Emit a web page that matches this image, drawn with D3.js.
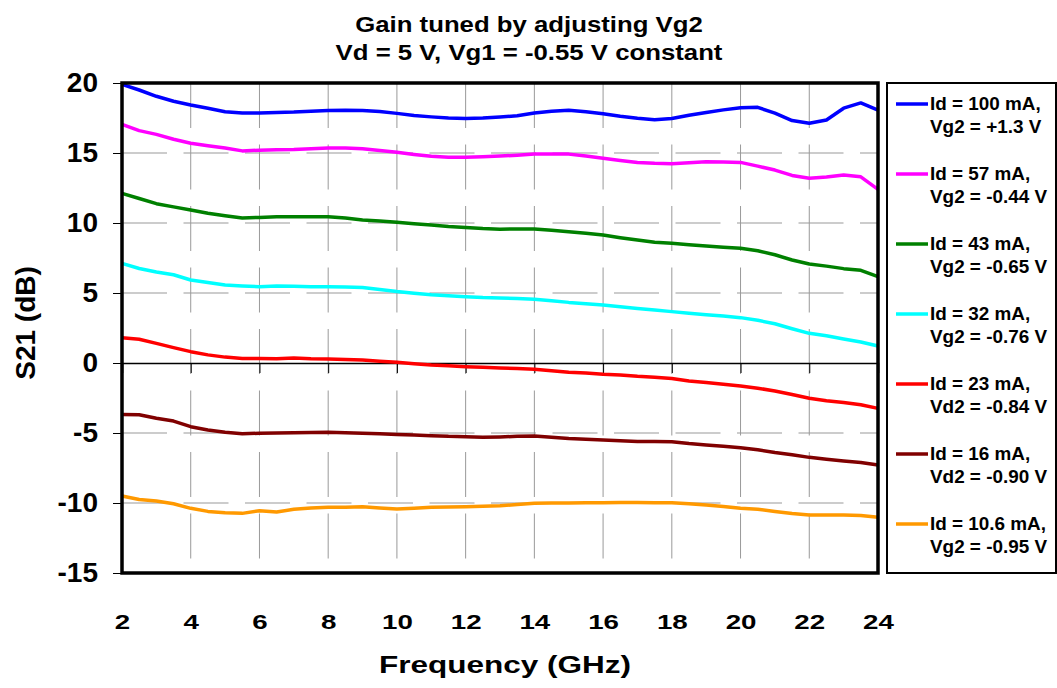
<!DOCTYPE html>
<html>
<head>
<meta charset="utf-8">
<script src="https://cdn.jsdelivr.net/npm/d3@7"></script>
<style>
  body { margin: 0; background: #fff; }
  svg text { font-family: "Liberation Sans", Arial, sans-serif; font-weight: bold; fill: #000; }
</style>
</head>
<body>
<svg id="chart" width="1057" height="688"></svg>
<script>
// frequency points (GHz)
var freq = [2, 2.5, 3, 3.5, 4, 4.5, 5, 5.5, 6, 6.5, 7, 7.5, 8, 8.5, 9, 9.5, 10, 10.5, 11, 11.5,
  12, 12.5, 13, 13.5, 14, 14.5, 15, 15.5, 16, 16.5, 17, 17.5, 18, 18.5, 19, 19.5, 20, 20.5,
  21, 21.5, 22, 22.5, 23, 23.5, 24];

// S21 (dB) for each bias point
var id100 = [19.9, 19.5, 19.05, 18.7, 18.43, 18.2, 17.95, 17.85, 17.86, 17.9, 17.92, 17.98, 18.03, 18.05, 18.04, 17.97,
  17.83, 17.68, 17.58, 17.5, 17.47, 17.5, 17.57, 17.66, 17.86, 17.98, 18.05, 17.95, 17.8, 17.62, 17.48, 17.38,
  17.46, 17.7, 17.9, 18.08, 18.24, 18.26, 17.85, 17.32, 17.12, 17.36, 18.2, 18.58, 18.07];
var id57 = [17.05, 16.6, 16.33, 15.98, 15.7, 15.52, 15.36, 15.15, 15.2, 15.23, 15.25, 15.3, 15.35, 15.36, 15.3, 15.18,
  15.05, 14.9, 14.76, 14.7, 14.69, 14.74, 14.78, 14.84, 14.92, 14.93, 14.92, 14.78, 14.63, 14.47, 14.32, 14.26,
  14.24, 14.3, 14.38, 14.35, 14.33, 14.06, 13.78, 13.4, 13.2, 13.28, 13.43, 13.3, 12.4];
var id43 = [12.12, 11.75, 11.38, 11.15, 10.93, 10.7, 10.52, 10.36, 10.4, 10.44, 10.45, 10.45, 10.45, 10.36, 10.22, 10.14,
  10.05, 9.95, 9.86, 9.75, 9.67, 9.6, 9.56, 9.57, 9.57, 9.48, 9.37, 9.26, 9.14, 8.95, 8.78, 8.62,
  8.55, 8.45, 8.35, 8.26, 8.19, 8.02, 7.73, 7.36, 7.07, 6.92, 6.74, 6.62, 6.17];
var id32 = [7.12, 6.75, 6.5, 6.3, 5.93, 5.75, 5.57, 5.5, 5.45, 5.5, 5.48, 5.45, 5.45, 5.43, 5.4, 5.25,
  5.1, 4.98, 4.87, 4.8, 4.74, 4.68, 4.65, 4.6, 4.55, 4.45, 4.33, 4.24, 4.14, 4.02, 3.9, 3.78,
  3.67, 3.55, 3.44, 3.35, 3.24, 3.05, 2.8, 2.45, 2.12, 1.95, 1.72, 1.5, 1.21];
var id23 = [1.8, 1.7, 1.4, 1.1, 0.81, 0.58, 0.42, 0.33, 0.33, 0.3, 0.35, 0.3, 0.29, 0.25, 0.21, 0.12,
  0.05, -0.05, -0.14, -0.2, -0.26, -0.3, -0.35, -0.4, -0.45, -0.55, -0.66, -0.72, -0.81, -0.85, -0.95, -1.02,
  -1.1, -1.28, -1.4, -1.52, -1.64, -1.8, -2.0, -2.25, -2.52, -2.7, -2.82, -2.98, -3.24];
var id16 = [-3.67, -3.7, -3.95, -4.15, -4.55, -4.78, -4.95, -5.05, -5.02, -5.0, -4.98, -4.96, -4.95, -4.98, -5.02, -5.06,
  -5.1, -5.15, -5.19, -5.24, -5.26, -5.3, -5.28, -5.24, -5.21, -5.3, -5.4, -5.45, -5.5, -5.55, -5.6, -5.6,
  -5.62, -5.75, -5.85, -5.95, -6.05, -6.2, -6.4, -6.55, -6.74, -6.88, -7.0, -7.1, -7.29];
var id10 = [-9.5, -9.75, -9.85, -10.05, -10.38, -10.6, -10.7, -10.74, -10.55, -10.65, -10.45, -10.35, -10.31, -10.3, -10.26, -10.35,
  -10.43, -10.38, -10.31, -10.28, -10.26, -10.24, -10.2, -10.1, -10.02, -10.0, -10.0, -9.98, -9.98, -9.97, -9.96, -9.98,
  -9.98, -10.05, -10.15, -10.25, -10.38, -10.45, -10.6, -10.75, -10.86, -10.85, -10.86, -10.9, -11.02];

var labelsId = ["Id = 100 mA,", "Id = 57 mA,", "Id = 43 mA,", "Id = 32 mA,", "Id = 23 mA,", "Id = 16 mA,", "Id = 10.6 mA,"];
var labelsV = ["Vg2 = +1.3 V", "Vg2 = -0.44 V", "Vg2 = -0.65 V", "Vg2 = -0.76 V", "Vd2 = -0.84 V", "Vd2 = -0.90 V", "Vg2 = -0.95 V"];
var colors = ["#0000ff", "#ff00ff", "#008000", "#00ffff", "#ff0000", "#800000", "#ff9900"];

var xTicks = [2, 4, 6, 8, 10, 12, 14, 16, 18, 20, 22, 24];
var yTicks = [-15, -10, -5, 0, 5, 10, 15, 20];

var series = [id100, id57, id43, id32, id23, id16, id10];

var svg = d3.select("#chart");
var plotL = 122, plotR = 878, plotT = 83, plotB = 573;

var x = d3.scaleLinear().domain([2, 24]).range([plotL, plotR]);
var y = d3.scaleLinear().domain([-15, 20]).range([plotB, plotT]);

// dashed grid
svg.append("g").selectAll("line").data(xTicks.slice(1, -1)).enter().append("line")
  .attr("x1", d => x(d)).attr("x2", d => x(d)).attr("y1", plotT).attr("y2", plotB)
  .attr("stroke", "#999").attr("stroke-width", 1).attr("stroke-dasharray", "45,16.5");
svg.append("g").selectAll("line").data(yTicks.filter(d => d != 0 && d != -15 && d != 20)).enter().append("line")
  .attr("x1", plotL).attr("x2", plotR).attr("y1", d => y(d)).attr("y2", d => y(d))
  .attr("stroke", "#999").attr("stroke-width", 1).attr("stroke-dasharray", "45,16.5");

// y axis (plain hyphen minus like the original)
var yAxis = svg.append("g").attr("transform", "translate(" + plotL + ",0)")
  .call(d3.axisLeft(y).tickValues(yTicks).tickSize(9).tickPadding(15).tickFormat(d => String(d)));
yAxis.select(".domain").remove();
yAxis.selectAll("line").attr("stroke", "#000");
yAxis.selectAll("text").attr("font-size", 28).style("font-family", "Liberation Sans, Arial, sans-serif").style("font-weight", "bold");

// zero line with ticks
var zeroAxis = svg.append("g").attr("transform", "translate(0," + y(0) + ")")
  .call(d3.axisBottom(x).tickValues(xTicks).tickSize(10).tickFormat(""));
zeroAxis.select(".domain").attr("stroke", "#000").attr("stroke-width", 1.5);
zeroAxis.selectAll(".tick line").attr("stroke", "#000");

// x tick labels
var xAxis = svg.append("g").attr("transform", "translate(0," + plotB + ")")
  .call(d3.axisBottom(x).tickValues(xTicks).tickSize(0).tickPadding(41).tickFormat(d => String(d)));
xAxis.select(".domain").remove();
xAxis.selectAll("text").attr("font-size", 21).attr("transform", "scale(1.32,1)")
  .style("font-family", "Liberation Sans, Arial, sans-serif").style("font-weight", "bold");

// lines
var line = d3.line().x((d, i) => x(freq[i])).y(d => y(d));
svg.append("g").selectAll("path").data(series).enter().append("path")
  .attr("d", d => line(d)).attr("fill", "none")
  .attr("stroke", (d, i) => colors[i]).attr("stroke-width", 3.5)
  .attr("stroke-linejoin", "round");

// frame
svg.append("rect").attr("x", plotL).attr("y", plotT).attr("width", plotR - plotL).attr("height", plotB - plotT)
  .attr("fill", "none").attr("stroke", "#000").attr("stroke-width", 3.5);

// legend
svg.append("rect").attr("x", 887).attr("y", 83).attr("width", 169).attr("height", 490)
  .attr("fill", "none").attr("stroke", "#000").attr("stroke-width", 2);
var lg = svg.append("g").selectAll("g").data(labelsId).enter().append("g")
  .attr("transform", (d, i) => "translate(0," + (104 + i * 70) + ")");
lg.append("line").attr("x1", 896).attr("x2", 928).attr("y1", 0).attr("y2", 0)
  .attr("stroke", (d, i) => colors[i]).attr("stroke-width", 3.5);
lg.append("text").attr("transform", "translate(930,6) scale(1.05,1)").attr("font-size", 18).text(d => d);
lg.append("text").attr("transform", "translate(930,29) scale(1.05,1)").attr("font-size", 18).text((d, i) => labelsV[i]);

// titles
svg.append("text").attr("transform", "translate(529,31.5) scale(1.12,1)").attr("text-anchor", "middle")
  .attr("font-size", 23).text("Gain tuned by adjusting Vg2");
svg.append("text").attr("transform", "translate(529,60) scale(1.12,1)").attr("text-anchor", "middle")
  .attr("font-size", 23).text("Vd = 5 V, Vg1 = -0.55 V constant");
svg.append("text").attr("transform", "translate(505,673) scale(1.37,1)").attr("text-anchor", "middle")
  .attr("font-size", 23).text("Frequency (GHz)");
svg.append("text").attr("transform", "translate(35,323) rotate(-90)").attr("text-anchor", "middle")
  .attr("font-size", 28).text("S21 (dB)");
</script>
</body>
</html>
